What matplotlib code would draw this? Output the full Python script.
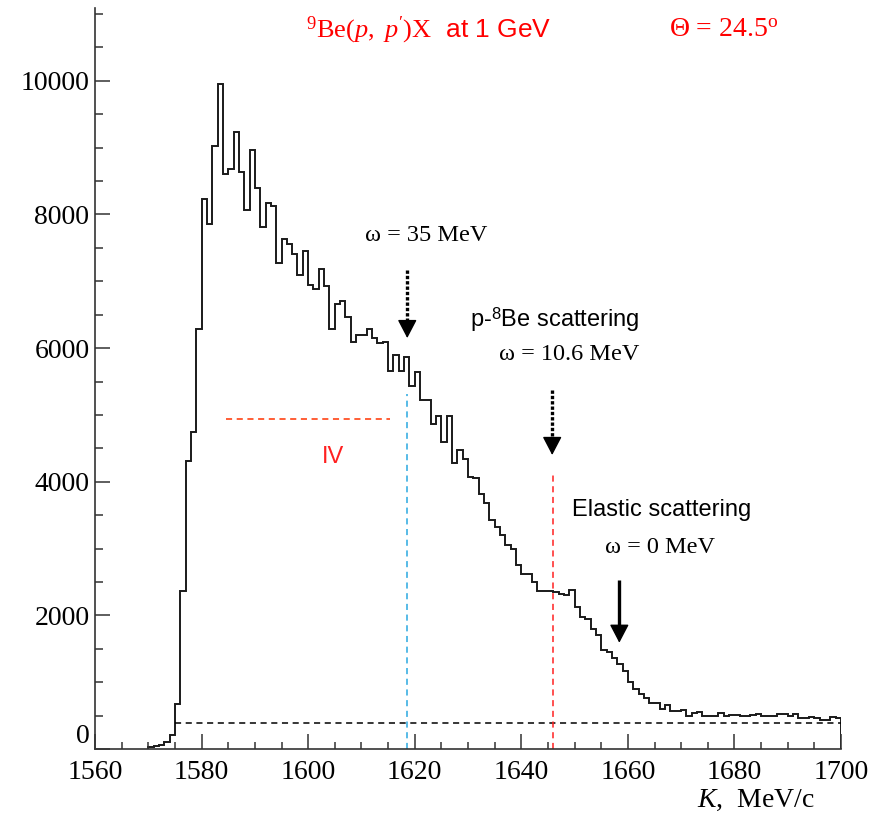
import matplotlib
matplotlib.use("Agg")
import matplotlib.pyplot as plt
import numpy as np
from matplotlib.ticker import MultipleLocator

# ---------------- data ----------------
bin_edges = np.arange(1570, 1701, 1)  # K, MeV/c, 1 MeV bins
counts = [
    25, 45, 55, 110, 210, 680, 2370, 4310, 4740, 6290,          # 1570-1579
    8230, 7850, 9030, 9950, 8600, 8680, 9230, 8640, 8070, 8960,  # 1580-1589
    8400, 7810, 8170, 8130, 7270, 7640, 7560, 7410, 7100, 7460,  # 1590-1599
    6950, 6880, 7190, 6930, 6280, 6660, 6710, 6460, 6090, 6200,  # 1600-1609
    6200, 6290, 6150, 6070, 6090, 5650, 5900, 5650, 5860, 5430,  # 1610-1619
    5640, 5220, 5230, 4870, 4985, 4600, 4985, 4280, 4470, 4340,  # 1620-1629
    4075, 4055, 3815, 3680, 3420, 3320, 3210, 3060, 2995, 2760,  # 1630-1639
    2620, 2620, 2500, 2370, 2365, 2360, 2345, 2320, 2300, 2380,  # 1640-1649
    2124, 1970, 1950, 1800, 1705, 1488, 1445, 1365, 1265, 1170,  # 1650-1659
    1010, 905, 830, 770, 690, 690, 600, 660, 575, 575,           # 1660-1669
    585, 500, 533, 550, 497, 497, 497, 535, 497, 515,            # 1670-1679
    505, 490, 500, 505, 530, 495, 500, 495, 518, 518,            # 1680-1689
    490, 518, 470, 458, 475, 470, 440, 440, 480, 460,            # 1690-1699
]
background_x = [1575, 1700]
background_y = [395, 395]

line_35_x = 1618.6        # omega = 35 MeV marker
line_35_top = 5310
line_106_x = 1646.0       # omega = 10.6 MeV marker
line_106_top = 4140
region_iv_x = [1584.6, 1615.3]
region_iv_y = 4935

arrow_35 = (1618.6, 7170, 6390, 6150)     # x, shaft top, head base, tip
arrow_106 = (1645.8, 5370, 4620, 4400)
arrow_el = (1658.4, 2530, 1810, 1590)

x_ticks_major = 20
x_ticks_minor = 5
y_ticks_major = 2000
y_ticks_minor = 500

# ---------------- style ----------------
plt.rcParams["font.family"] = ["Liberation Serif", "DejaVu Serif"]
plt.rcParams["mathtext.fontset"] = "custom"
plt.rcParams["mathtext.rm"] = "Liberation Serif"
plt.rcParams["mathtext.it"] = "Liberation Serif:italic"
plt.rcParams["mathtext.bf"] = "Liberation Serif:bold"
plt.rcParams["mathtext.sf"] = "Liberation Sans"

W, H = 887, 816
fig = plt.figure(figsize=(W / 100, H / 100), dpi=100)
ax = fig.add_axes([95 / W, 67 / H, (841 - 95) / W, (749 - 8) / H])
ax.set_xlim(1560, 1700)
ax.set_ylim(0, 11090)

ink = "#1a1a1a"
ax.stairs(counts, bin_edges, baseline=0, color=ink, lw=1.4)

# background level
ax.plot(background_x, background_y, color="black", lw=1.1, ls=(0, (4, 3)))

# vertical markers
ax.plot([line_35_x, line_35_x], [0, line_35_top], color="#29A8E0", lw=1.1, ls=(0, (4, 3)))
ax.plot([line_106_x, line_106_x], [0, line_106_top], color="#FF2020", lw=1.1, ls=(0, (4, 3)))
ax.plot(region_iv_x, [region_iv_y, region_iv_y], color="#FF3300", lw=1.1, ls=(0, (4, 3)))

# arrows
def draw_arrow(spec, dotted):
    x, top, base, tip = spec
    ax.plot([x, x], [top, base], color="black", lw=2.4,
            ls=(0, (1, 0.6)) if dotted else "-", solid_capstyle="butt",
            dash_capstyle="butt")
    ax.annotate("", xy=(x, tip), xytext=(x, base),
                arrowprops=dict(arrowstyle="-|>,head_length=1.15,head_width=0.6",
                                color="black", lw=1, shrinkA=0, shrinkB=0,
                                mutation_scale=10))

draw_arrow(arrow_35, True)
draw_arrow(arrow_106, True)
draw_arrow(arrow_el, False)

# texts
ax.text(1622.1, 7680, "ω = 35 MeV", fontsize=17.5, ha="center", va="center")
ax.text(1646.3, 6422, r"p-$^{\mathsf{8}}$Be scattering", family="Liberation Sans",
        fontsize=17, ha="center", va="center")
ax.text(1649.0, 5898, "ω = 10.6 MeV", fontsize=17.5, ha="center", va="center")
ax.text(1666.4, 3578, "Elastic scattering", family="Liberation Sans",
        fontsize=17, ha="center", va="center")
ax.text(1666.0, 3009, "ω = 0 MeV", fontsize=17.5, ha="center", va="center")
ax.text(1604.7, 4371, "IV", family="Liberation Sans", color="#FF2020",
        fontsize=17, ha="center", va="center")
ax.text(1622.6, 10749, r"$^{9}\mathrm{Be}(p,\ p')\mathrm{X}$  at 1 GeV",
        family="Liberation Sans", color="red", fontsize=19, ha="center", va="center")
ax.text(1677.9, 10760, r"Θ = 24.5$^{\mathrm{o}}$", color="red", fontsize=20,
        ha="center", va="center")

fig.text(756 / W, 1 - 800 / H, r"$K$,  MeV/c", fontsize=20, ha="center", va="center")

# axes styling
for s in ["top", "right"]:
    ax.spines[s].set_visible(False)
for s in ["left", "bottom"]:
    ax.spines[s].set_color("#333333")
    ax.spines[s].set_linewidth(1.2)

ax.xaxis.set_major_locator(MultipleLocator(x_ticks_major))
ax.xaxis.set_minor_locator(MultipleLocator(x_ticks_minor))
ax.yaxis.set_major_locator(MultipleLocator(y_ticks_major))
ax.yaxis.set_minor_locator(MultipleLocator(y_ticks_minor))
ax.tick_params(which="both", direction="in", color="#333333", width=1.1,
               top=False, right=False)
ax.tick_params(which="major", length=10.8, labelsize=20)
ax.tick_params(which="minor", length=5.4)
ax.tick_params(axis="x", pad=8)
ax.tick_params(axis="y", pad=4)

# lift the "0" label slightly, as in the reference
fig.canvas.draw()
for t in ax.yaxis.get_major_ticks():
    if abs(t.get_loc()) < 1e-9:
        t.label1.set_verticalalignment("bottom")

fig.savefig("out.png", dpi=100)
